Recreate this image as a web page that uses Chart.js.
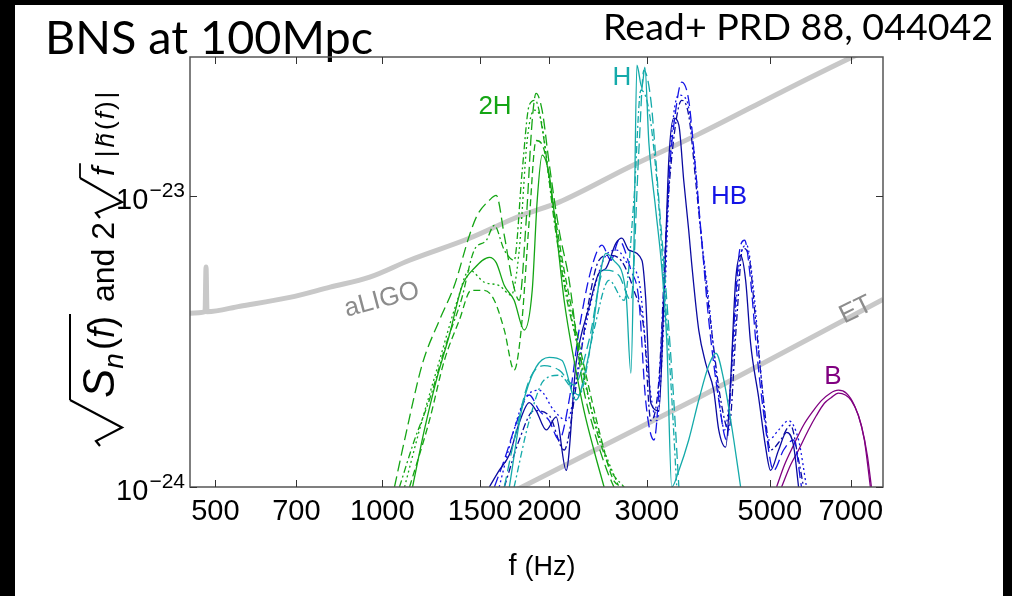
<!DOCTYPE html>
<html>
<head>
<meta charset="utf-8">
<script src="https://cdn.jsdelivr.net/npm/chart.js@4.4.1/dist/chart.umd.min.js"></script>
<style>
  html, body { margin: 0; padding: 0; background: #000; }
  canvas { display: block; }
</style>
</head>
<body>
<canvas id="c" width="1012" height="596"></canvas>
<script>
// frequencies in Hz, strain values in units of 1e-24
const xTickVals = [500, 700, 1000, 1500, 2000, 3000, 5000, 7000];
const yTickExps = [-24, -23];

const aligoF = [450, 479, 481, 483, 554, 681, 805, 949, 1120, 1436, 1766, 2084, 2785, 3722, 5402, 7015, 8000];
const aligoH = [3.95, 4.0, 5.7, 4.0, 4.18, 4.48, 4.86, 5.26, 6.01, 7.15, 8.51, 9.52, 12.55, 16.3, 23.4, 29.9, 33.6];
const etF = [1750, 3722, 8000];
const etH = [0.98, 2.03, 4.41];

// 2H
const g1F = [1134, 1191, 1252, 1321, 1394, 1465, 1560, 1605, 1660, 1729, 1803, 1864, 1903, 1942, 2000, 2059, 2128, 2218, 2311, 2408, 2512];
const g1H = [1.0, 1.57, 2.33, 3.32, 4.92, 5.64, 6.15, 5.9, 4.92, 4.38, 3.46, 4.74, 9.66, 13.8, 11.8, 7.62, 4.38, 2.72, 1.83, 1.34, 1.0];
const g2F = [1052, 1097, 1182, 1268, 1349, 1436, 1483, 1560, 1605, 1660, 1716, 1766, 1818, 1864, 1894, 1942, 2000, 2084, 2173, 2292, 2408, 2542, 2617];
const g2H = [1.0, 1.45, 2.66, 3.74, 4.92, 7.31, 8.57, 9.66, 10.04, 7.31, 5.13, 4.38, 8.24, 18.2, 22.5, 19.7, 12.9, 7.62, 5.13, 2.33, 1.57, 1.14, 1.0];
const g3F = [1097, 1167, 1268, 1366, 1436, 1528, 1625, 1708, 1766, 1825, 1879, 1934, 2000, 2101, 2218, 2360, 2512, 2672];
const g3H = [1.0, 1.57, 2.72, 4.38, 5.56, 5.05, 4.92, 4.56, 6.51, 15.5, 19.7, 18.2, 11.3, 6.01, 3.46, 1.99, 1.34, 1.0];
const g4F = [1074, 1143, 1216, 1310, 1388, 1465, 1540, 1592, 1660, 1729, 1788, 1841, 1887, 1958, 2041, 2154, 2264, 2408, 2585, 2729];
const g4H = [1.0, 1.45, 1.99, 3.19, 4.38, 6.51, 7.03, 7.92, 6.51, 6.01, 12.2, 20.5, 21.3, 15.5, 8.25, 4.38, 2.95, 1.69, 1.14, 1.0];
const g5F = [1120, 1216, 1294, 1377, 1447, 1528, 1592, 1660, 1729, 1780, 1841, 1894, 1958, 2041, 2128, 2218, 2342, 2459, 2617, 2729];
const g5H = [1.0, 1.69, 2.72, 3.74, 4.74, 4.74, 4.38, 3.46, 2.52, 3.46, 8.24, 15.5, 14.4, 8.93, 5.56, 3.74, 2.33, 1.57, 1.05, 1.0];

// H
const c1F = [1695, 1788, 1894, 2000, 2110, 2236, 2360, 2532, 2610, 2751, 2808, 2843, 2879, 2939, 2976, 3026, 3114, 3192, 3259, 3327, 3427, 3570, 3722, 3881, 3997, 4130, 4305, 4429];
const c1H = [1.0, 1.88, 2.58, 2.79, 2.72, 1.99, 2.88, 6.35, 6.03, 4.63, 2.46, 6.51, 28.1, 23.6, 27.7, 15.2, 8.93, 5.68, 3.19, 1.0, 1.14, 1.45, 1.99, 2.62, 2.88, 2.33, 1.45, 1.0];
const c2F = [1660, 1729, 1841, 1958, 2084, 2218, 2360, 2512, 2672, 2808, 2903, 2963, 3051, 3154, 3259, 3355, 3427];
const c2H = [1.0, 1.45, 2.33, 2.61, 2.52, 2.24, 3.19, 5.56, 5.33, 4.38, 14.4, 27.0, 21.3, 9.66, 4.38, 1.99, 1.0];
const c3F = [1729, 1841, 1958, 2084, 2264, 2408, 2564, 2729, 2843, 2927, 3026, 3127, 3220, 3313, 3397];
const c3H = [1.0, 1.69, 2.33, 2.42, 2.07, 3.46, 5.13, 4.38, 9.66, 23.1, 19.7, 11.3, 5.13, 2.33, 1.0];

// HB
const b1F = [1560, 1625, 1695, 1766, 1841, 1894, 1976, 2059, 2146, 2236, 2360, 2459, 2532, 2638, 2705, 2785, 2939, 2985, 3051, 3154, 3220, 3287, 3355, 3427, 3497, 3570, 3614, 3722, 3831, 3960, 4044, 4162, 4249, 4338, 4429, 4522, 4616, 4773, 4913, 5015, 5186, 5359, 5517, 5634];
const b1H = [1.0, 1.14, 1.29, 1.66, 1.95, 1.83, 1.57, 1.74, 1.14, 2.66, 4.15, 5.43, 5.64, 6.87, 7.16, 6.51, 6.01, 4.49, 1.94, 1.83, 4.38, 13.3, 18.5, 17.5, 11.3, 7.62, 5.87, 3.46, 2.66, 2.15, 1.57, 1.37, 2.33, 5.13, 6.25, 5.13, 3.12, 2.03, 1.37, 1.14, 1.34, 1.54, 1.39, 1.0];
const b2F = [1593, 1660, 1751, 1841, 1919, 2000, 2084, 2173, 2264, 2379, 2490, 2585, 2672, 2808, 2903, 2985, 3091, 3183, 3287, 3383, 3468, 3570, 3660, 3768, 3880, 4044, 4180, 4302, 4411, 4503, 4616, 4733, 4893, 5079, 5294, 5517, 5703];
const b2H = [1.0, 1.24, 1.69, 2.07, 1.83, 1.69, 1.45, 1.99, 3.46, 5.56, 6.77, 6.01, 7.04, 5.56, 4.38, 1.99, 1.45, 2.95, 11.3, 19.7, 24.6, 21.3, 13.3, 7.04, 3.74, 1.99, 1.45, 3.46, 6.51, 7.04, 5.13, 2.95, 1.69, 1.14, 1.34, 1.45, 1.0];
const b3F = [1625, 1708, 1803, 1919, 2041, 2154, 2282, 2408, 2532, 2650, 2785, 2903, 3026, 3127, 3220, 3313, 3427, 3541, 3646, 3753, 3880, 4012, 4145, 4283, 4411, 4542, 4675, 4812, 4974, 5186, 5404, 5634, 5823];
const b3H = [1.0, 1.45, 1.99, 2.15, 1.83, 1.69, 2.95, 4.74, 6.25, 6.51, 5.77, 5.13, 2.33, 1.69, 3.74, 14.4, 22.2, 21.3, 14.4, 7.62, 4.38, 2.33, 1.57, 2.72, 6.01, 6.76, 4.74, 2.52, 1.45, 1.57, 1.69, 1.45, 1.0];
const b4F = [1660, 1766, 1879, 2000, 2128, 2245, 2360, 2459, 2564, 2694, 2843, 2965, 3051, 3154, 3259, 3369, 3468, 3570, 3690, 3815, 3945, 4078, 4215, 4357, 4467, 4579, 4713, 4871, 5015, 5228, 5449, 5634, 5751];
const b4H = [1.0, 1.45, 1.83, 1.76, 1.34, 2.33, 4.38, 6.01, 6.25, 6.01, 4.74, 3.46, 1.69, 2.33, 8.24, 16.8, 21.3, 18.9, 10.4, 5.56, 3.19, 1.99, 1.57, 3.74, 6.61, 6.25, 3.74, 1.99, 1.34, 1.45, 1.63, 1.24, 1.0];

// B
const p1F = [5250, 5449, 5634, 5869, 6067, 6271, 6456, 6646, 6843, 7015, 7224, 7405, 7591];
const p1H = [1.0, 1.19, 1.34, 1.57, 1.76, 1.94, 2.03, 2.10, 2.07, 1.98, 1.76, 1.45, 1.0];
const p2F = [5142, 5313, 5517, 5750, 5992, 6194, 6429, 6646, 6871, 7102, 7310, 7498, 7624];
const p2H = [1.0, 1.19, 1.39, 1.63, 1.83, 1.98, 2.10, 2.15, 2.10, 1.91, 1.63, 1.28, 1.0];

const GREEN = 'rgb(20,165,20)';
const CYAN = 'rgb(20,170,170)';
const NAVY = 'rgb(10,10,160)';
const BLUE = 'rgb(20,20,230)';
const PURPLE = 'rgb(128,0,128)';
const GRAY = 'rgb(200,200,200)';

const SOLID = [], DASH = [7, 4], DOT = [2, 3], DASHDOT = [7, 3, 2, 3], LONG = [11, 5];

const SANS = '"Liberation Sans", Arial, sans-serif';
const NARROW = '"Liberation Sans Narrow", "Arial Narrow", "Liberation Sans", sans-serif';

function pts(fs, hs) {
    return fs.map((f, i) => ({ x: f, y: hs[i] * 1e-24 }));
}

function curve(fs, hs, color, dash) {
    return {
        data: pts(fs, hs),
        borderColor: color,
        borderWidth: 1.3,
        borderDash: dash,
        pointRadius: 0,
        cubicInterpolationMode: 'monotone',
        fill: false,
        order: 0
    };
}

const datasets = [
    { data: pts(aligoF, aligoH), borderColor: GRAY, borderWidth: 5, pointRadius: 0, cubicInterpolationMode: 'monotone', order: 1 },
    { data: pts(etF, etH), borderColor: GRAY, borderWidth: 5, pointRadius: 0, tension: 0, order: 1 },
    curve(g1F, g1H, GREEN, SOLID),
    curve(g2F, g2H, GREEN, LONG),
    curve(g3F, g3H, GREEN, DOT),
    curve(g4F, g4H, GREEN, DASHDOT),
    curve(g5F, g5H, GREEN, DASH),
    curve(c1F, c1H, CYAN, SOLID),
    curve(c2F, c2H, CYAN, LONG),
    curve(c3F, c3H, CYAN, DASHDOT),
    curve(b1F, b1H, NAVY, SOLID),
    curve(b2F, b2H, BLUE, LONG),
    curve(b3F, b3H, BLUE, DOT),
    curve(b4F, b4H, NAVY, DASHDOT),
    curve(p1F, p1H, PURPLE, SOLID),
    curve(p2F, p2H, PURPLE, SOLID)
];

function fitFont(ctx, text, family, width) {
    ctx.font = '40px ' + family;
    const w = ctx.measureText(text).width;
    return (40 * width / w).toFixed(1) + 'px ' + family;
}

function drawYTitle(ctx) {
    ctx.save();
    ctx.translate(114, 446);
    ctx.rotate(-Math.PI / 2);
    ctx.fillStyle = '#000';
    ctx.strokeStyle = '#000';
    ctx.textBaseline = 'alphabetic';
    ctx.textAlign = 'left';
    let x = 0;
    const txt = (s, font, dy) => {
        ctx.font = font;
        ctx.fillText(s, x, dy || 0);
        x += ctx.measureText(s).width;
    };
    const radical = (w, top) => {
        ctx.lineWidth = 2.2;
        ctx.lineJoin = 'miter';
        ctx.beginPath();
        ctx.moveTo(x, -14);
        ctx.lineTo(x + 5, -18);
        ctx.lineTo(x + w * 0.4, 8);
        ctx.lineTo(x + w, top);
        ctx.stroke();
        x += w;
    };
    radical(46, -44);
    const v1 = x;
    x += 2;
    txt('S', 'italic 44px ' + SANS);
    txt('n', 'italic 28px ' + SANS, 9);
    x += 3;
    txt('(', '36px ' + SANS);
    txt('f', 'italic 36px ' + SANS);
    txt(')', '36px ' + SANS);
    ctx.lineWidth = 2;
    ctx.beginPath(); ctx.moveTo(v1, -44); ctx.lineTo(x + 2, -44); ctx.stroke();
    x += 14;
    txt('and 2', '32px ' + SANS);
    x += 4;
    radical(40, -34);
    const v2 = x;
    x += 2;
    txt('f', 'italic 32px ' + SANS);
    ctx.lineWidth = 1.8;
    ctx.beginPath(); ctx.moveTo(v2, -34); ctx.lineTo(x + 4, -34); ctx.stroke();
    x += 10;
    const small = '26px ' + SANS;
    txt('|', small); x += 3;
    txt('h\u0303', 'italic 26px ' + SANS); x += 3;
    txt('(', small); x += 2;
    txt('f', 'italic 26px ' + SANS); x += 2;
    txt(')', small); x += 3;
    txt('|', small);
    ctx.restore();
}

const slidePlugin = {
    id: 'slide',
    beforeDraw(chart) {
        const ctx = chart.ctx;
        ctx.save();
        ctx.fillStyle = '#000';
        ctx.fillRect(0, 0, chart.width, chart.height);
        ctx.fillStyle = '#fff';
        ctx.fillRect(15, 5, 988, 591);
        ctx.fillStyle = '#000';
        ctx.textBaseline = 'alphabetic';
        ctx.textAlign = 'left';
        ctx.font = fitFont(ctx, 'BNS at 100Mpc', 'Lato', 328);
        ctx.fillText('BNS at 100Mpc', 45, 54);
        ctx.font = fitFont(ctx, 'Read+ PRD 88, 044042', 'Lato', 390);
        ctx.fillText('Read+ PRD 88, 044042', 603, 40);
        ctx.restore();
    },
    afterDatasetsDraw(chart) {
        const ctx = chart.ctx;
        const a = chart.chartArea;
        const xs = chart.scales.x, ys = chart.scales.y;
        ctx.save();
        // frame and inward ticks
        ctx.strokeStyle = '#555';
        ctx.lineWidth = 1.5;
        ctx.strokeRect(a.left, a.top, a.right - a.left, a.bottom - a.top);
        ctx.lineWidth = 1;
        ctx.strokeStyle = '#333';
        ctx.beginPath();
        xTickVals.forEach(v => {
            const px = Math.round(xs.getPixelForValue(v)) + 0.5;
            ctx.moveTo(px, a.bottom); ctx.lineTo(px, a.bottom - 7);
            ctx.moveTo(px, a.top); ctx.lineTo(px, a.top + 7);
        });
        yTickExps.forEach(e => {
            const py = Math.round(ys.getPixelForValue(Math.pow(10, e))) + 0.5;
            ctx.moveTo(a.left, py); ctx.lineTo(a.left + 7, py);
            ctx.moveTo(a.right, py); ctx.lineTo(a.right - 7, py);
        });
        ctx.stroke();

        // y tick labels 10^n
        ctx.fillStyle = '#000';
        ctx.textAlign = 'right';
        ctx.textBaseline = 'alphabetic';
        yTickExps.forEach(e => {
            const py = ys.getPixelForValue(Math.pow(10, e));
            ctx.font = '21px ' + NARROW;
            const sup = '\u2212' + String(-e);
            const sw = ctx.measureText(sup).width;
            ctx.fillText(sup, 185, py + 1);
            ctx.font = '29px ' + NARROW;
            ctx.fillText('10', 185 - sw - 1, py + 13);
        });

        // axis title
        ctx.textAlign = 'left';
        ctx.font = '29px ' + SANS;
        const fw = ctx.measureText('f ').width;
        ctx.font = '27px ' + NARROW;
        const hw = ctx.measureText('(Hz)').width;
        const x0 = 542 - (fw + hw) / 2;
        ctx.font = '29px ' + SANS;
        ctx.fillText('f ', x0, 575);
        ctx.font = '27px ' + NARROW;
        ctx.fillText('(Hz)', x0 + fw, 575);

        drawYTitle(ctx);

        // curve labels
        ctx.textAlign = 'center';
        ctx.textBaseline = 'middle';
        ctx.font = '26px ' + SANS;
        ctx.fillStyle = GREEN; ctx.fillText('2H', 495, 107);
        ctx.fillStyle = CYAN; ctx.fillText('H', 622, 78);
        ctx.fillStyle = BLUE; ctx.fillText('HB', 729, 197);
        ctx.fillStyle = PURPLE; ctx.fillText('B', 833, 377);

        ctx.fillStyle = 'rgb(140,140,140)';
        ctx.font = '26px ' + SANS;
        ctx.save();
        ctx.translate(382, 300);
        ctx.rotate(-15 * Math.PI / 180);
        ctx.fillText('aLIGO', 0, 0);
        ctx.restore();
        ctx.save();
        ctx.translate(856, 310);
        ctx.rotate(-26 * Math.PI / 180);
        ctx.fillText('ET', 0, 0);
        ctx.restore();
        ctx.restore();
    }
};

new Chart(document.getElementById('c').getContext('2d'), {
    type: 'line',
    data: { datasets: datasets },
    options: {
        responsive: false,
        animation: false,
        events: [],
        layout: { padding: { left: 0, right: 129, top: 57, bottom: 0 } },
        plugins: { legend: { display: false }, tooltip: { enabled: false } },
        scales: {
            x: {
                type: 'logarithmic',
                min: 450,
                max: 8000,
                grid: { display: false, drawTicks: false },
                border: { display: false },
                ticks: {
                    color: '#000',
                    font: { family: NARROW, size: 29 },
                    padding: 8,
                    autoSkip: false,
                    maxRotation: 0,
                    callback: v => String(v)
                },
                afterBuildTicks: s => { s.ticks = xTickVals.map(v => ({ value: v })); },
                afterFit: s => { s.height = 109; }
            },
            y: {
                type: 'logarithmic',
                min: 1e-24,
                max: 3e-23,
                grid: { display: false, drawTicks: false },
                border: { display: false },
                ticks: { display: false },
                afterBuildTicks: s => { s.ticks = yTickExps.map(e => ({ value: Math.pow(10, e) })); },
                afterFit: s => { s.width = 190; }
            }
        }
    },
    plugins: [slidePlugin]
});
</script>
</body>
</html>
